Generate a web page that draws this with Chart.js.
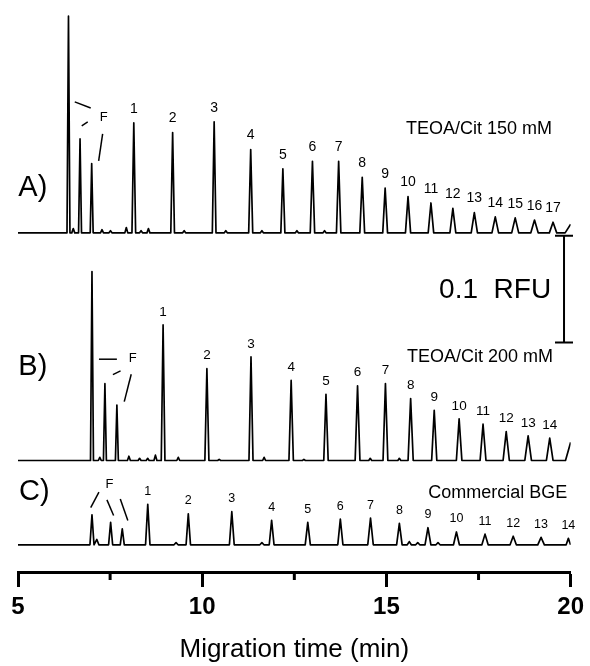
<!DOCTYPE html>
<html><head><meta charset="utf-8">
<script src="https://cdn.jsdelivr.net/npm/chart.js@4.4.0/dist/chart.umd.min.js"></script>
<style>html,body{margin:0;padding:0;background:#fff;}canvas{display:block;}</style>
</head><body>
<canvas id="c" width="590" height="666" style="width:590px;height:666px"></canvas>
<script>
// ---------------- DATA (migration time in min, signal in RFU) ----------------
const xTickValues = [5, 10, 15, 20];
const xMinorTickValues = [7.5, 12.5, 17.5];

// Trace A: TEOA/Cit 150 mM
const baselineA = 0.3178;
const peakNumbersA = ['1','2','3','4','5','6','7','8','9','10','11','12','13','14','15','16','17'];
const peakTimesA   = [8.143, 9.197, 10.324, 11.316, 12.189, 12.992, 13.703, 14.343, 14.965, 15.586, 16.208, 16.803, 17.386, 17.954, 18.495, 19.019, 19.522];
const peakHeightsA = [0.103, 0.094, 0.104, 0.078, 0.060, 0.067, 0.067, 0.052, 0.042, 0.034, 0.028, 0.023, 0.019, 0.015, 0.014, 0.012, 0.010];
const peakWidthsA  = [0.05, 0.05, 0.05, 0.055, 0.055, 0.06, 0.06, 0.065, 0.065, 0.07, 0.075, 0.08, 0.085, 0.09, 0.095, 0.10, 0.10];
const otherTimesA   = [6.370, 6.500, 6.684, 7.000, 7.280, 7.510, 7.940, 8.340, 8.540, 9.510, 10.640, 11.620, 12.570, 13.320];
const otherHeightsA = [0.203, 0.004, 0.088, 0.065, 0.003, 0.002, 0.005, 0.002, 0.004, 0.002, 0.002, 0.002, 0.002, 0.002];
const tailTimesA   = [19.85, 20.0];
const tailHeightsA = [0.000, 0.008];

// Trace B: TEOA/Cit 200 mM
const baselineB = 0.1045;
const peakNumbersB = ['1','2','3','4','5','6','7','8','9','10','11','12','13','14'];
const peakTimesB   = [8.938, 10.127, 11.324, 12.414, 13.359, 14.216, 14.973, 15.657, 16.297, 16.973, 17.622, 18.251, 18.846, 19.432];
const peakHeightsB = [0.127, 0.086, 0.097, 0.075, 0.062, 0.070, 0.072, 0.058, 0.047, 0.039, 0.034, 0.027, 0.023, 0.021];
const peakWidthsB  = [0.05, 0.055, 0.055, 0.06, 0.06, 0.065, 0.065, 0.07, 0.07, 0.075, 0.08, 0.085, 0.09, 0.09];
const otherTimesB   = [7.008, 7.220, 7.359, 7.684, 8.010, 8.300, 8.520, 8.730, 9.350, 10.460, 11.680, 12.760, 14.560, 15.350];
const otherHeightsB = [0.177, 0.003, 0.072, 0.052, 0.004, 0.002, 0.002, 0.005, 0.003, 0.001, 0.003, 0.001, 0.002, 0.002];
const tailTimesB   = [19.86, 20.0];
const tailHeightsB = [0.000, 0.017];

// Trace C: Commercial BGE
const baselineC = 0.0255;
const peakNumbersC = ['1','2','3','4','5','6','7','8','9','10','11','12','13','14'];
const peakTimesC   = [8.522, 9.622, 10.803, 11.884, 12.865, 13.749, 14.568, 15.351, 16.127, 16.900, 17.676, 18.441, 19.197, 19.938];
const peakHeightsC = [0.038, 0.029, 0.031, 0.023, 0.021, 0.024, 0.025, 0.020, 0.016, 0.012, 0.010, 0.008, 0.007, 0.006];
const peakWidthsC  = [0.06, 0.06, 0.065, 0.065, 0.07, 0.07, 0.075, 0.075, 0.08, 0.08, 0.085, 0.085, 0.09, 0.06];
const otherTimesC   = [7.008, 7.140, 7.514, 7.830, 9.290, 11.620, 15.620, 15.850, 16.400];
const otherHeightsC = [0.028, 0.005, 0.021, 0.015, 0.002, 0.002, 0.003, 0.002, 0.002];
const tailTimesC   = [20.0];
const tailHeightsC = [0.000];

const scaleBarValue = 0.1; // RFU

// ---------------- LAYOUT / STYLE ----------------
const FONT = 'Liberation Sans, Arial, Helvetica, sans-serif';
const yMax = 0.536;
const otherWidth = {A: 0.04, B: 0.04, C: 0.055};

function buildTrace(base, groups, tailT, tailH) {
  const pk = [];
  groups.forEach(g => g.times.forEach((t, i) => pk.push({t, h: g.heights[i], w: g.widths ? g.widths[i] : g.w})));
  pk.sort((a, b) => a.t - b.t);
  const pts = [{x: 5, y: base}];
  pk.forEach(p => {
    pts.push({x: p.t - p.w, y: base}, {x: p.t, y: base + p.h}, {x: p.t + p.w, y: base});
  });
  tailT.forEach((t, i) => pts.push({x: t, y: base + tailH[i]}));
  return pts;
}

const dataA = buildTrace(baselineA, [
  {times: peakTimesA, heights: peakHeightsA, widths: peakWidthsA},
  {times: otherTimesA, heights: otherHeightsA, w: otherWidth.A}], tailTimesA, tailHeightsA);
const dataB = buildTrace(baselineB, [
  {times: peakTimesB, heights: peakHeightsB, widths: peakWidthsB},
  {times: otherTimesB, heights: otherHeightsB, w: otherWidth.B}], tailTimesB, tailHeightsB);
const dataC = buildTrace(baselineC, [
  {times: peakTimesC, heights: peakHeightsC, widths: peakWidthsC},
  {times: otherTimesC, heights: otherHeightsC, w: otherWidth.C}], tailTimesC, tailHeightsC);

const numberLabels = [
  {nums: peakNumbersA, times: peakTimesA, heights: peakHeightsA, base: baselineA, gap: 14, size: 14},
  {nums: peakNumbersB, times: peakTimesB, heights: peakHeightsB, base: baselineB, gap: 13, size: 13.5},
  {nums: peakNumbersC, times: peakTimesC, heights: peakHeightsC, base: baselineC, gap: 13, size: 12.5}
];

const textItems = [
  {text: 'A)', t: 5.01, v: 0.360, size: 29, align: 'left'},
  {text: 'B)', t: 5.01, v: 0.192, size: 29, align: 'left'},
  {text: 'C)', t: 5.03, v: 0.075, size: 29, align: 'left'},
  {text: 'TEOA/Cit 150 mM', t: 17.51, v: 0.415, size: 18, align: 'center'},
  {text: 'TEOA/Cit 200 mM', t: 17.54, v: 0.2016, size: 18, align: 'center'},
  {text: 'Commercial BGE', t: 18.02, v: 0.0742, size: 18, align: 'center'},
  {text: '0.1  RFU', t: 17.95, v: 0.2644, size: 28, align: 'center'},
  {text: 'F', t: 7.324, v: 0.4264, size: 13, align: 'center'},
  {text: 'F', t: 8.116, v: 0.2004, size: 13, align: 'center'},
  {text: 'F', t: 7.486, v: 0.0817, size: 13, align: 'center'}
];

const leaderLines = [
  [6.541, 0.4405, 6.973, 0.4348], [6.730, 0.4180, 6.892, 0.4218], [7.297, 0.4105, 7.189, 0.3852],
  [7.197, 0.1994, 7.684, 0.1994], [7.576, 0.1850, 7.784, 0.1885], [8.073, 0.1853, 7.884, 0.1597],
  [6.973, 0.0604, 7.197, 0.0748], [7.414, 0.0676, 7.595, 0.0529], [7.776, 0.0683, 7.981, 0.0482]
];
const scaleBar = {t: 19.82, bottom: 0.215, capHalf: 9, width: 2};

const annotPlugin = {
  id: 'annot',
  afterDraw(chart) {
    const {ctx, scales: {x, y}} = chart;
    ctx.save();
    ctx.fillStyle = '#000';
    ctx.strokeStyle = '#000';
    ctx.textBaseline = 'middle';
    numberLabels.forEach(tr => {
      ctx.font = tr.size + 'px ' + FONT;
      ctx.textAlign = 'center';
      tr.times.forEach((t, i) => {
        ctx.fillText(tr.nums[i], x.getPixelForValue(t), y.getPixelForValue(tr.base + tr.heights[i]) - tr.gap);
      });
    });
    textItems.forEach(it => {
      ctx.font = it.size + 'px ' + FONT;
      ctx.textAlign = it.align;
      ctx.fillText(it.text, x.getPixelForValue(it.t), y.getPixelForValue(it.v));
    });
    ctx.lineWidth = 1.5;
    ctx.lineCap = 'butt';
    leaderLines.forEach(l => {
      ctx.beginPath();
      ctx.moveTo(x.getPixelForValue(l[0]), y.getPixelForValue(l[1]));
      ctx.lineTo(x.getPixelForValue(l[2]), y.getPixelForValue(l[3]));
      ctx.stroke();
    });
    // scale bar
    const sx = x.getPixelForValue(scaleBar.t);
    const y0 = y.getPixelForValue(scaleBar.bottom);
    const y1 = y.getPixelForValue(scaleBar.bottom + scaleBarValue);
    ctx.lineWidth = scaleBar.width;
    ctx.beginPath();
    ctx.moveTo(sx, y0); ctx.lineTo(sx, y1);
    ctx.moveTo(sx - scaleBar.capHalf, y0); ctx.lineTo(sx + scaleBar.capHalf, y0);
    ctx.moveTo(sx - scaleBar.capHalf, y1); ctx.lineTo(sx + scaleBar.capHalf, y1);
    ctx.stroke();
    // minor ticks
    const ab = chart.chartArea.bottom;
    ctx.lineWidth = 3;
    xMinorTickValues.forEach(v => {
      const px = x.getPixelForValue(v);
      ctx.beginPath();
      ctx.moveTo(px, ab); ctx.lineTo(px, ab + 8);
      ctx.stroke();
    });
    ctx.restore();
  }
};

const ds = (data) => ({data, borderColor: '#000', borderWidth: 1.7, pointRadius: 0, tension: 0,
  borderJoinStyle: 'round', fill: false});

new Chart(document.getElementById('c'), {
  type: 'line',
  data: {datasets: [ds(dataA), ds(dataB), ds(dataC)]},
  options: {
    responsive: false,
    animation: false,
    devicePixelRatio: 1,
    events: [],
    layout: {padding: {left: 18, right: 17, top: 0, bottom: 1}},
    plugins: {legend: {display: false}, tooltip: {enabled: false}},
    scales: {
      x: {
        type: 'linear', min: 5, max: 20, position: 'bottom',
        afterBuildTicks: s => { s.ticks = xTickValues.map(v => ({value: v})); },
        border: {display: true, color: '#000', width: 3},
        grid: {display: true, drawOnChartArea: false, drawTicks: true, tickLength: 15, tickWidth: 3, tickColor: '#000'},
        ticks: {color: '#000', font: {family: FONT, size: 24, weight: 'bold'}, padding: 6, maxRotation: 0, autoSkip: false},
        title: {display: true, text: 'Migration time (min)', color: '#000', font: {family: FONT, size: 26}, padding: {top: 6, bottom: 0}}
      },
      y: {type: 'linear', display: false, min: 0, max: yMax}
    }
  },
  plugins: [annotPlugin]
});
</script>
</body></html>
